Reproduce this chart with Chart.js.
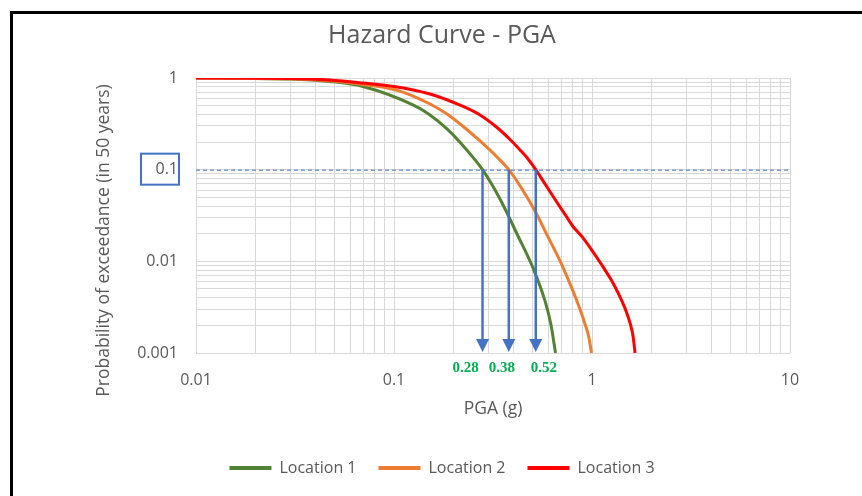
<!DOCTYPE html>
<html>
<head>
<meta charset="utf-8">
<script src="https://cdn.jsdelivr.net/npm/chart.js@4.4.1/dist/chart.umd.min.js"></script>
<style>
  html, body { margin: 0; padding: 0; background: #fff; overflow: hidden; }
  #wrap { position: relative; width: 862px; height: 496px; }
  #frame { position: absolute; left: 10px; top: 11px; width: 900px; height: 600px; border: 3px solid #000; box-sizing: border-box; }
  canvas { position: absolute; left: 0; top: 0; }
</style>
</head>
<body>
<div id="wrap">
  <div id="frame"></div>
  <canvas id="hazard" width="862" height="496"></canvas>
</div>
<script>
// PGA (g) vs probability of exceedance in 50 years, per site
const pgaLoc1 = [0.01, 0.03, 0.0475, 0.0697, 0.1247, 0.152, 0.1852, 0.2284, 0.28, 0.343, 0.4229, 0.5035, 0.579, 0.621, 0.654];
const poeLoc1 = [1.0, 0.975, 0.916, 0.808, 0.508, 0.395, 0.278, 0.1724, 0.1, 0.0479, 0.0189, 0.00848, 0.0037, 0.00202, 0.001];

const pgaLoc2 = [0.01, 0.03, 0.0475, 0.0697, 0.1, 0.1247, 0.152, 0.1852, 0.2284, 0.2718, 0.3236, 0.38, 0.4431, 0.5155, 0.5996, 0.6896, 0.7743, 0.85, 0.9217, 0.9656, 0.994];
const poeLoc2 = [1.0, 0.98, 0.932, 0.85, 0.749, 0.636, 0.521, 0.405, 0.285, 0.2056, 0.1446, 0.1, 0.0616, 0.0354, 0.01845, 0.0101, 0.00567, 0.00343, 0.00208, 0.00146, 0.001];

const pgaLoc3 = [0.01, 0.03, 0.0475, 0.0697, 0.1, 0.152, 0.2232, 0.2718, 0.3313, 0.3854, 0.433, 0.4752, 0.52, 0.579, 0.6634, 0.739, 0.8017, 0.9005, 1.0117, 1.137, 1.2763, 1.385, 1.485, 1.556, 1.611, 1.649];
const poeLoc3 = [1.0, 0.9875, 0.951, 0.882, 0.808, 0.669, 0.489, 0.395, 0.2885, 0.2135, 0.164, 0.1308, 0.1, 0.0698, 0.0444, 0.0313, 0.024, 0.018, 0.01266, 0.00869, 0.00581, 0.00409, 0.00288, 0.00213, 0.00154, 0.001];

const seriesNames = ['Location 1', 'Location 2', 'Location 3'];
const seriesColors = ['#548235', '#ED7D31', '#FF0000'];

// design level and the PGA at that level
const targetPoe = 0.1;
const designPga = [0.28, 0.38, 0.52];
const designLabelShift = [-17, -7, 8];

const xDecades = [0.01, 0.1, 1, 10];
const yDecades = [0.001, 0.01, 0.1, 1];

function logTicks(decades) {
    const out = [];
    decades.forEach((d, i) => {
        if (i === decades.length - 1) { out.push(d); return; }
        for (let m = 1; m <= 9; m++) out.push(+(d * m).toPrecision(3));
    });
    return out;
}

function toPoints(xs, ys) {
    return xs.map((x, i) => ({ x, y: ys[i] }));
}

const textColor = '#595959';
const gridColor = '#d9d9d9';
const arrowColor = '#4472C4';
const fontFamily = "'Open Sans', sans-serif";
const yTitle = 'Probability of exceedance (in 50 years)';

const overlay = {
    id: 'designMarks',
    afterDatasetsDraw(chart) {
        const { ctx, chartArea, scales: { x, y } } = chart;
        const yLine = y.getPixelForValue(targetPoe);
        ctx.save();

        // dashed reference line at the design probability
        ctx.strokeStyle = arrowColor;
        ctx.lineWidth = 1;
        ctx.setLineDash([4, 3]);
        ctx.beginPath();
        ctx.moveTo(chartArea.left, yLine + 0.5);
        ctx.lineTo(chartArea.right, yLine + 0.5);
        ctx.stroke();
        ctx.setLineDash([]);

        // arrows down to the x axis
        designPga.forEach((v, i) => {
            const px = x.getPixelForValue(v);
            const tip = chartArea.bottom - 1;
            ctx.strokeStyle = arrowColor;
            ctx.lineWidth = 2.5;
            ctx.beginPath();
            ctx.moveTo(px, yLine);
            ctx.lineTo(px, tip - 12);
            ctx.stroke();
            ctx.fillStyle = arrowColor;
            ctx.beginPath();
            ctx.moveTo(px - 6.5, tip - 13);
            ctx.lineTo(px + 6.5, tip - 13);
            ctx.lineTo(px, tip);
            ctx.closePath();
            ctx.fill();

            ctx.fillStyle = '#00B050';
            ctx.font = "bold 15px 'Liberation Serif', serif";
            ctx.textAlign = 'center';
            ctx.textBaseline = 'middle';
            ctx.fillText(v.toFixed(2), px + designLabelShift[i], chartArea.bottom + 15);
        });

        // box around the 0.1 tick label
        ctx.strokeStyle = arrowColor;
        ctx.lineWidth = 2;
        ctx.strokeRect(chartArea.left - 55, yLine - 16, 38, 31);

        // y axis title, sitting a little lower than the plot centre
        ctx.fillStyle = textColor;
        ctx.font = "17.5px 'Open Sans', sans-serif";
        ctx.textAlign = 'center';
        ctx.textBaseline = 'middle';
        ctx.translate(chartArea.left - 92, (chartArea.top + chartArea.bottom) / 2 + 25);
        ctx.rotate(-Math.PI / 2);
        ctx.fillText(yTitle, 0, 0);
        ctx.restore();
    }
};

new Chart(document.getElementById('hazard'), {
    type: 'line',
    data: {
        datasets: [
            { label: seriesNames[0], data: toPoints(pgaLoc1, poeLoc1), order: 2 },
            { label: seriesNames[1], data: toPoints(pgaLoc2, poeLoc2), order: 1 },
            { label: seriesNames[2], data: toPoints(pgaLoc3, poeLoc3), order: 0 },
        ].map((ds, i) => ({
            ...ds,
            borderColor: seriesColors[i],
            backgroundColor: seriesColors[i],
            borderWidth: 3,
            pointRadius: 0,
            fill: false,
            cubicInterpolationMode: 'monotone',
        })),
    },
    options: {
        responsive: false,
        animation: false,
        layout: { padding: { left: 94, right: 72, top: 0, bottom: 10 } },
        plugins: {
            title: {
                display: true,
                text: 'Hazard Curve - PGA',
                color: textColor,
                font: { family: fontFamily, size: 25, weight: 'normal' },
                padding: { top: 21, bottom: 27 },
            },
            legend: {
                position: 'bottom',
                labels: {
                    color: textColor,
                    font: { family: fontFamily, size: 16 },
                    boxWidth: 42,
                    boxHeight: 4,
                    padding: 22,
                    generateLabels: (chart) => chart.data.datasets.map((ds, i) => ({
                        text: ds.label,
                        fillStyle: ds.borderColor,
                        strokeStyle: ds.borderColor,
                        lineWidth: 0,
                        fontColor: textColor,
                        hidden: false,
                        datasetIndex: i,
                    })),
                },
            },
            tooltip: { enabled: false },
        },
        scales: {
            x: {
                type: 'logarithmic',
                min: 0.01,
                max: 10,
                afterBuildTicks: (s) => { s.ticks = logTicks(xDecades).map(value => ({ value })); },
                afterFit: (s) => { s.height = 85; },
                grid: { color: gridColor, drawTicks: false },
                border: { display: false },
                ticks: {
                    autoSkip: false,
                    maxRotation: 0,
                    padding: 18,
                    color: textColor,
                    font: { family: fontFamily, size: 16 },
                    callback: (v) => xDecades.includes(v) ? String(v) : '',
                },
                title: {
                    display: true,
                    text: 'PGA (g)',
                    color: textColor,
                    font: { family: fontFamily, size: 17.5 },
                    padding: { top: 4, bottom: 18 },
                },
            },
            y: {
                type: 'logarithmic',
                min: 0.001,
                max: 1,
                afterBuildTicks: (s) => { s.ticks = logTicks(yDecades).map(value => ({ value })); },
                afterFit: (s) => { s.width = 102; },
                grid: { color: gridColor, drawTicks: false },
                border: { display: false },
                ticks: {
                    autoSkip: false,
                    padding: 18,
                    color: textColor,
                    font: { family: fontFamily, size: 16 },
                    callback: (v) => yDecades.includes(v) ? String(v) : '',
                },
            },
        },
    },
    plugins: [overlay],
});
</script>
</body>
</html>
